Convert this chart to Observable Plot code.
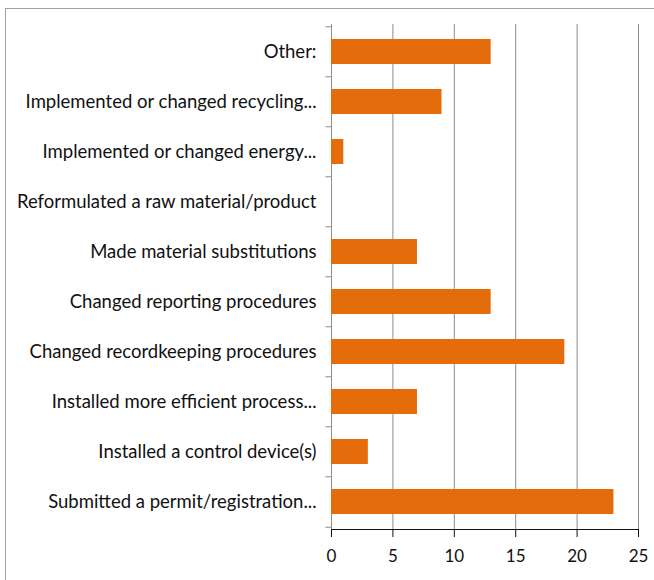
<!DOCTYPE html>
<html>
<head>
<meta charset="utf-8">
<script src="https://cdn.jsdelivr.net/npm/d3@7"></script>
<script src="https://cdn.jsdelivr.net/npm/@observablehq/plot@0.6"></script>
<style>
  html, body { margin: 0; padding: 0; background: #fff; overflow: hidden; }
  #frame { position: absolute; left: 5px; top: 8px; width: 700px; height: 700px; border: 1px solid #a0a0a0; }
  #chart { position: absolute; left: 0; top: 0; }
  #chart svg g[aria-label="x-axis tick label"] text { font-size: 17px; }
</style>
</head>
<body>
<div id="frame"></div>
<div id="chart"></div>
<script>
const categories = [
  "Other:",
  "Implemented or changed recycling...",
  "Implemented or changed energy...",
  "Reformulated a raw material/product",
  "Made material substitutions",
  "Changed reporting procedures",
  "Changed recordkeeping procedures",
  "Installed more efficient process...",
  "Installed a control device(s)",
  "Submitted a permit/registration..."
];
const values = [13, 9, 1, 0, 7, 13, 19, 7, 3, 23];
const xTicks = [0, 5, 10, 15, 20, 25];

const data = categories.map((c, i) => ({category: c, value: values[i]}));
const lastCat = categories[categories.length - 1];
const step = (580 - 24 - 51) / categories.length;

const chart = Plot.plot({
  width: 654,
  height: 580,
  marginLeft: 331,
  marginRight: 16,
  marginTop: 24,
  marginBottom: 51,
  style: { fontFamily: "Lato, sans-serif", fontSize: "18.5px", color: "#111", background: "transparent" },
  x: { domain: [0, 25], ticks: xTicks, tickSize: 8, tickPadding: 12, label: null, line: true },
  y: { domain: categories, paddingInner: 0.5, paddingOuter: 0.25, tickSize: 0, tickPadding: 15, label: null },
  marks: [
    Plot.ruleX(xTicks.filter(d => d > 0), { stroke: "#8c8c8c", strokeWidth: 1 }),
    Plot.ruleX([0], { stroke: "#8c8c8c", strokeWidth: 1 }),
    Plot.ruleY(categories, { y: d => d, x1: -0.45, x2: 0, dy: -step / 2, stroke: "#8c8c8c" }),
    Plot.ruleY([lastCat], { y: d => d, x1: -0.45, x2: 0, dy: step / 2, stroke: "#8c8c8c" }),
    Plot.barX(data, { y: "category", x: "value", fill: "#E46C0A" })
  ]
});
document.getElementById("chart").appendChild(chart);
</script>
</body>
</html>
